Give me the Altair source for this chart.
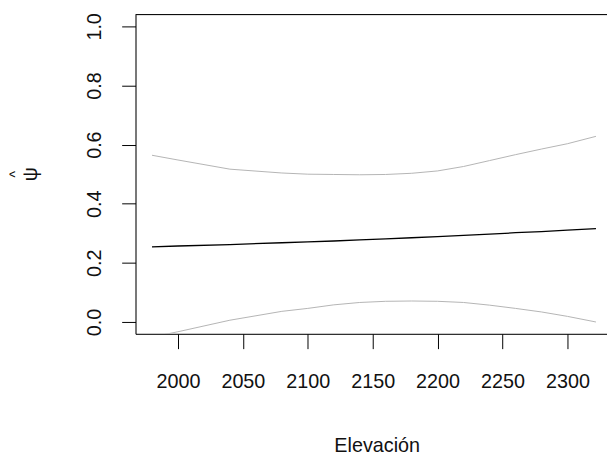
import altair as alt
import pandas as pd

# Values
elevacion = [1980, 2000, 2040, 2080, 2100, 2120, 2140, 2160, 2180, 2200, 2220, 2240, 2260, 2280, 2300, 2322]
psi_hat = [0.254, 0.257, 0.262, 0.268, 0.271, 0.274, 0.278, 0.281, 0.285, 0.289, 0.293, 0.297, 0.302, 0.306, 0.311, 0.316]
limite_sup = [0.564, 0.548, 0.517, 0.504, 0.500, 0.499, 0.498, 0.499, 0.503, 0.511, 0.526, 0.546, 0.566, 0.585, 0.603, 0.628]
limite_inf = [-0.051, -0.033, 0.006, 0.036, 0.046, 0.058, 0.066, 0.070, 0.071, 0.070, 0.066, 0.057, 0.046, 0.034, 0.019, 0.000]

x_ticks = [2000, 2050, 2100, 2150, 2200, 2250, 2300]
y_ticks = [0.0, 0.2, 0.4, 0.6, 0.8, 1.0]
x_domain = [1967.3, 2330.5]
y_domain = [-0.04, 1.04]
y_title_letter = ["ψ"]
y_title_hat = ["^"]

df = pd.DataFrame({"Elevacion": elevacion, "psi": psi_hat, "sup": limite_sup, "inf": limite_inf})

FONT = "Liberation Sans"

x_scale = alt.Scale(domain=x_domain, nice=False, zero=False)
y_scale = alt.Scale(domain=y_domain, nice=False, zero=False)

x_axis = alt.Axis(
    values=x_ticks, title="Elevación", grid=False, format="d",
    domainColor="black", domainWidth=1,
    tickColor="black", tickWidth=1, tickSize=15,
    labelFont=FONT, labelFontSize=20, labelColor="#111111", labelPadding=23,
    labelFlush=False, labelOverlap=False,
    titleFont=FONT, titleFontSize=20, titleFontWeight="normal", titleColor="#111111",
    titleX=244, titleY=113, titleAlign="center", titleBaseline="middle",
)
y_axis = alt.Axis(
    values=y_ticks, title="", grid=False, format=".1f",
    domainColor="black", domainWidth=1,
    tickColor="black", tickWidth=1, tickSize=14,
    labelFont=FONT, labelFontSize=20, labelColor="#111111", labelPadding=21,
    labelAngle=270, labelAlign="center", labelBaseline="alphabetic",
    labelFlush=False, labelOverlap=False,
)

base = alt.Chart(df)

mean_line = base.mark_line(color="black", strokeWidth=1.3, clip=True).encode(
    x=alt.X("Elevacion:Q", scale=x_scale, axis=x_axis),
    y=alt.Y("psi:Q", scale=y_scale, axis=y_axis),
)
upper_line = base.mark_line(color="#b4b4b4", strokeWidth=1, clip=True).encode(
    x=alt.X("Elevacion:Q", scale=x_scale),
    y=alt.Y("sup:Q", scale=y_scale),
)
lower_line = base.mark_line(color="#b4b4b4", strokeWidth=1, clip=True).encode(
    x=alt.X("Elevacion:Q", scale=x_scale),
    y=alt.Y("inf:Q", scale=y_scale),
)
top_border = alt.Chart(pd.DataFrame({"a": [0]})).mark_rule(color="black", strokeWidth=1).encode(
    y=alt.value(0)
)
psi_letter = alt.Chart(pd.DataFrame({"t": y_title_letter})).mark_text(
    font=FONT, fontSize=20, color="#111111", angle=270,
    align="center", baseline="middle",
).encode(
    text="t:N", x=alt.value(-106), y=alt.value(161.5)
)
psi_hat_mark = alt.Chart(pd.DataFrame({"t": y_title_hat})).mark_text(
    font=FONT, fontSize=14, color="#111111", angle=270,
    align="center", baseline="middle",
).encode(
    text="t:N", x=alt.value(-121), y=alt.value(161.5)
)

chart = alt.layer(upper_line, lower_line, mean_line, top_border, psi_letter, psi_hat_mark).properties(
    width=477, height=323,
    autosize=alt.AutoSizeParams(type="none"),
    padding={"left": 129, "top": 4, "right": 0, "bottom": 122},
).configure_view(stroke="transparent").configure(background="white")

chart.save("out.html", embed_options={"renderer": "svg", "actions": False})
